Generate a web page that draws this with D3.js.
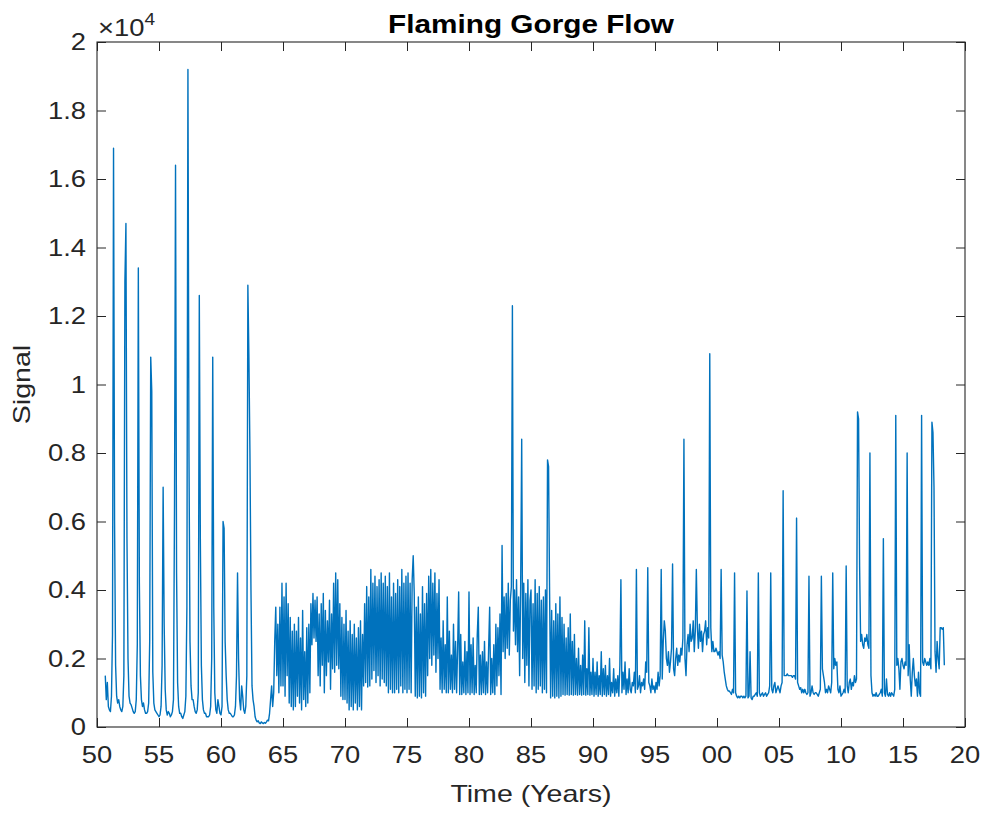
<!DOCTYPE html>
<html><head><meta charset="utf-8">
<script src="https://cdn.jsdelivr.net/npm/d3@7"></script>
<style>
body{margin:0;background:#fff}
svg{display:block}
text{font-family:"Liberation Sans",Arial,Helvetica,sans-serif;fill:#262626}
</style>
</head><body>
<svg id="chart" width="987" height="815"></svg>
<script>
const chartTitle = "Flaming Gorge Flow";
const xLabel = "Time (Years)";
const yLabel = "Signal";
const xTickValues = [50,55,60,65,70,75,80,85,90,95,100,105,110,115,120];
const xTickLabels = ["50","55","60","65","70","75","80","85","90","95","00","05","10","15","20"];
const yTickValues = [0,2000,4000,6000,8000,10000,12000,14000,16000,18000,20000];
const yTickLabels = ["0","0.2","0.4","0.6","0.8","1","1.2","1.4","1.6","1.8","2"];

// monthly flow, first value = Sep 1950 (years counted from 1900)
const startYear = 50 + 8/12;
const flow1950s = [
1500,800,1300,600,
500,450,900,2700,16900,6000,1800,900,700,800,600,500,
450,600,1500,13000,14700,5500,2000,900,700,650,550,450,
400,450,800,2400,13400,4200,1500,800,600,700,500,400,
400,450,700,2500,10800,9800,1600,700,500,450,400,350,
300,350,600,1800,7000,3000,1100,500,350,450,400,300,
350,450,800,6400,16400,4500,1300,600,400,400,300,250,
350,450,900,3500,19200,8000,2500,1200,800,800,600,450,
400,500,1000,12600,5500,1800,800,500,400,400,300,300,
300,350,600,2000,10800,3500,1000,500,400,800,600,400];
const flow1960s = [
350,600,6000,5800,2500,1500,800,500,400,400,350,300,
300,350,600,1500,4500,2000,800,500,1200,900,500,400,
600,1500,12900,10800,8000,4000,1200,800,600,300,200,150,
180,120,100,150,120,100,130,110,150,200,180,400,
800,1200,600,1000,2500,3500,1500,3000,1000,3500,1200,4200,
1200,3800,900,4200,1500,3600,700,3200,600,2800,500,3000,
600,2800,900,3200,700,2600,500,3400,800,2200,600,2900,
700,3000,1000,3600,2400,3900,2600,3700,2500,3800,1500,3300,
1200,3600,1800,3900,1000,3400,1500,3100,1900,3700,1100,3300,
1700,4200,1600,4500,1800,4300,1700,3600,900,3200,800,3000];
const flow1970s = [
800,3400,700,2800,500,3100,600,2700,500,3000,700,2600,
500,2900,600,3100,500,2700,1200,3600,1300,4100,1170,3800,
1200,4600,1400,4200,1650,4400,1300,4100,1500,4300,1200,4500,
1400,4200,1300,4400,1200,4100,1000,4500,1100,3800,1000,4200,
1000,3900,1100,4300,1000,4100,1200,4600,1000,4200,1100,4400,
1000,4500,1100,4200,1000,4300,5000,3900,900,3500,850,3800,
900,3300,850,4100,1000,3600,900,3900,1500,4400,2000,4600,
1800,4200,2100,4500,1600,3900,2000,4300,1100,2600,1000,3100,
1100,2400,1000,3800,1000,2800,1100,2100,1000,3000,1100,2500,
1000,2300,3940,950,2700,950,1900,1000,2500,950,2200,1000];
const flow1980s = [
3940,950,2400,1000,2600,950,1800,1000,2700,3500,950,2100,
950,2200,1000,2500,950,1900,1000,2300,3500,950,2000,1000,
2400,950,3000,1200,2900,1500,3300,950,5300,2200,3800,2000,
3900,2300,4200,2100,3700,4100,12300,2800,4000,2400,4300,2200,
3800,1500,4100,8400,2000,4200,1300,3900,1800,4300,1200,3700,
4000,1100,3600,1200,4300,1000,3900,1100,4100,1200,3700,1000,
3800,1100,4000,1000,7800,7600,3900,850,3400,900,3100,850,
3600,900,3300,850,3800,900,3200,950,3000,930,2600,950,
2900,930,3300,950,2500,930,2700,950,2000,930,2300,950,
1800,930,2100,950,3100,930,1700,950,2900,930,1600,950];
const flow1990s = [
2000,900,1600,950,1900,900,1500,950,2200,900,1700,950,
1800,900,1500,950,2000,900,1300,1000,1700,900,1400,1000,
1500,900,1800,4300,1000,1600,1100,1900,950,1400,1000,1700,
1100,1000,1300,1200,1600,1000,4600,1100,1200,1500,1000,1300,
1200,1400,1100,1900,1600,4650,1300,1200,1000,1400,1100,1200,
1000,1300,1100,1600,1200,1500,4600,1400,2500,3100,2800,2000,
1800,2200,1600,1900,2300,4760,1700,1500,2000,2300,1800,2100,
1900,2300,2100,2600,8400,2000,1500,2400,2700,2200,3000,2500,
2600,3100,2200,2800,4600,2900,2300,3000,2500,2800,2200,2700,
2800,3100,2400,2900,2600,10900,2900,2200,2500,2200,2200,2300];
const flow2000s = [
2200,2100,2200,2000,4600,2100,1900,1600,1400,1200,1100,1050,
1050,1000,950,1100,1000,4500,1000,900,850,900,850,900,
900,850,900,850,900,3970,850,900,2200,850,800,900,
900,950,1000,900,4500,1000,900,950,1000,900,950,1000,
900,950,1000,1200,4500,1100,1000,1200,1300,1000,1100,1200,
1100,1000,1200,1300,6900,1500,1500,1500,1550,1500,1500,1500,
1500,1450,1500,1500,1400,6100,1300,1200,1100,1150,1000,1100,
1000,1100,1000,950,1000,4400,900,1000,1200,1000,950,1000,
1000,950,900,1000,1100,4400,1700,1500,1300,1000,1100,1000,
1200,1100,1000,1300,4500,1700,2000,1800,1900,1100,1000,1200];
const flow2010s = [
900,950,1000,1100,1000,4700,1200,1000,1300,1400,1100,1300,
1200,1500,1300,1400,9200,9000,4700,2500,2700,2400,2300,2600,
2500,2700,2400,2300,8000,1500,1000,900,950,900,1000,900,
900,950,1000,1100,900,5500,1000,900,1400,950,900,1000,
900,1000,950,900,1100,9100,1800,2000,1700,1100,1900,2000,
1800,1700,1900,1800,8000,1500,2400,1400,900,1600,2000,1500,
1200,1400,900,1600,1000,900,9100,1900,1800,2000,1900,1800,
1900,1800,2000,1700,8900,8600,7000,2200,1600,2500,2000,1700,
2900,2900,2850,2900,1800];

const flow = [].concat(flow1950s, flow1960s, flow1970s, flow1980s, flow1990s, flow2000s, flow2010s);
const data = flow.map((v, i) => ({t: startYear + i / 12, v}));

const L = 97, R = 965, T = 42, B = 727;
const K = 1.19; // horizontal glyph stretch seen in the reference
const axisColor = "#262626";
const svg = d3.select("#chart");
const x = d3.scaleLinear().domain([50, 120]).range([L, R]);
const y = d3.scaleLinear().domain([0, 20000]).range([B, T]);

svg.append("path").datum(data)
  .attr("d", d3.line().x(d => x(d.t)).y(d => y(d.v)))
  .attr("fill", "none").attr("stroke", "#0072BD").attr("stroke-width", 1.4)
  .attr("stroke-linejoin", "round");

function styleAxis(g) {
  g.select(".domain").remove();
  g.selectAll("line").attr("stroke", axisColor).attr("stroke-width", 1);
  g.selectAll("text").remove();
}
svg.append("g").attr("transform", `translate(0,${B})`).call(d3.axisBottom(x).tickValues(xTickValues).tickSize(-9)).call(styleAxis);
svg.append("g").attr("transform", `translate(0,${T})`).call(d3.axisTop(x).tickValues(xTickValues).tickSize(-9)).call(styleAxis);
svg.append("g").attr("transform", `translate(${L},0)`).call(d3.axisLeft(y).tickValues(yTickValues).tickSize(-9)).call(styleAxis);
svg.append("g").attr("transform", `translate(${R},0)`).call(d3.axisRight(y).tickValues(yTickValues).tickSize(-9)).call(styleAxis);

svg.append("rect").attr("x", L).attr("y", T).attr("width", R - L).attr("height", B - T)
  .attr("fill", "none").attr("stroke", axisColor).attr("stroke-width", 1.1);

function txt(px, py, str, size, anchor, rot, weight, fill) {
  return svg.append("text")
    .attr("transform", `translate(${px},${py}) rotate(${rot || 0}) scale(${K},1)`)
    .attr("text-anchor", anchor).attr("font-size", size)
    .attr("font-weight", weight || "normal")
    .style("fill", fill || axisColor)
    .text(str);
}

xTickValues.forEach((v, i) => txt(x(v), 763, xTickLabels[i], 23, "middle"));
yTickValues.forEach((v, i) => txt(86, y(v) + 8, yTickLabels[i], 23, "end"));

txt((L + R) / 2, 33, chartTitle, 25, "middle", 0, "bold", "#000");
txt((L + R) / 2, 802, xLabel, 24, "middle");
txt(30, (T + B) / 2, yLabel, 24, "middle", -90);

const exp = txt(98, 36, "\u00d710", 23, "start");
exp.append("tspan").attr("font-size", 16).attr("dy", -11).text("4");
</script>
</body></html>
